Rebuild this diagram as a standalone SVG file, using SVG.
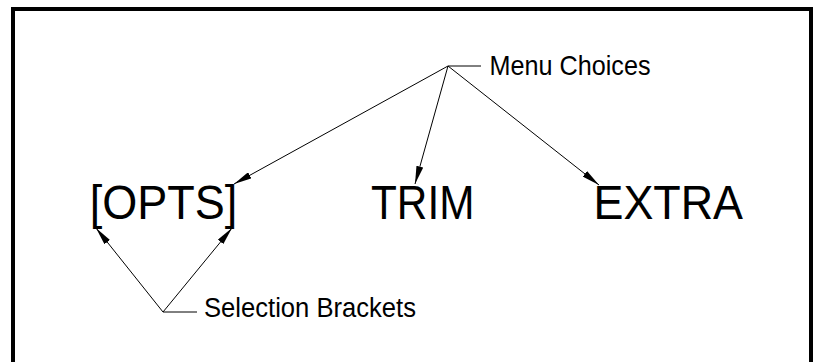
<svg xmlns="http://www.w3.org/2000/svg" width="819" height="362" viewBox="0 0 819 362">
  <defs>
    <style>
      .frame { fill: none; stroke: #000; stroke-width: 4; }
      .lead { fill: none; stroke: #000; stroke-width: 1; }
      .big { font-family: "Liberation Sans", Arial, sans-serif; font-size: 48px; fill: #000; }
      .label { font-family: "Liberation Sans", Arial, sans-serif; font-size: 27.5px; fill: #000; }
    </style>
    <marker id="arrow" viewBox="0 0 18 7" refX="18" refY="3.5" markerWidth="18" markerHeight="7" markerUnits="userSpaceOnUse" orient="auto">
      <path d="M0,0 L18,3.5 L0,7 z" fill="#000"/>
    </marker>
  </defs>

  <rect width="819" height="362" fill="#fff"/>

  <!-- outer frame, open at the bottom -->
  <path class="frame" d="M13,362 V9 H811 V362"/>

  <!-- menu entries -->
  <g id="opts">
    <text class="big" x="89.8" y="218.5" textLength="147.5" lengthAdjust="spacingAndGlyphs">[OPTS]</text>
  </g>
  <g id="trim">
    <text class="big" x="371" y="218.5" textLength="103.5" lengthAdjust="spacingAndGlyphs">TRIM</text>
  </g>
  <g id="extra">
    <text class="big" x="593.5" y="218.5" textLength="149.5" lengthAdjust="spacingAndGlyphs">EXTRA</text>
  </g>

  <!-- callout labels -->
  <g id="menu-choices">
    <text class="label" x="489.5" y="75" textLength="161" lengthAdjust="spacingAndGlyphs">Menu Choices</text>
  </g>
  <g id="selection-brackets">
    <text class="label" x="204" y="317" textLength="212" lengthAdjust="spacingAndGlyphs">Selection Brackets</text>
  </g>

  <!-- leader lines -->
  <g id="connectors">
    <path class="lead" d="M481,66 H448"/>
    <path class="lead" d="M448,66 L234,184" marker-end="url(#arrow)"/>
    <path class="lead" d="M448,66 L415,184" marker-end="url(#arrow)"/>
    <path class="lead" d="M448,66 L599,185" marker-end="url(#arrow)"/>

    <path class="lead" d="M197,312 H163"/>
    <path class="lead" d="M163,312 L96,228" marker-end="url(#arrow)"/>
    <path class="lead" d="M163,312 L232,228" marker-end="url(#arrow)"/>
  </g>
</svg>
